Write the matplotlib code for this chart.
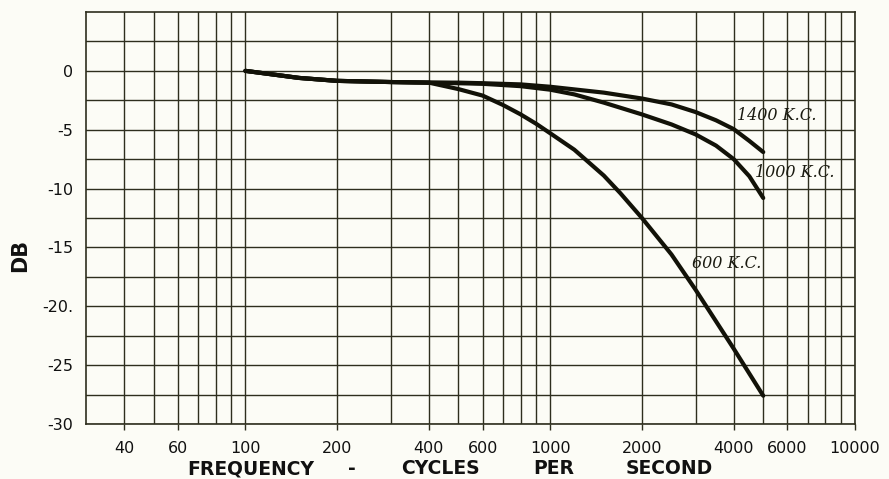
import matplotlib
matplotlib.use("Agg")
import matplotlib.pyplot as plt
from matplotlib.ticker import FixedLocator, FixedFormatter, NullFormatter

# trunk shared by all three curves (Hz, dB)
freq_trunk = [100, 150, 200, 300, 400]
db_trunk = [0.0, -0.6, -0.85, -0.95, -1.0]

freq_1400 = [500, 600, 800, 1000, 1500, 2000, 2500, 3000, 3500, 4000, 4500, 5000]
db_1400 = [-1.0, -1.05, -1.15, -1.35, -1.85, -2.35, -2.85, -3.5, -4.2, -4.95, -5.95, -6.9]

freq_1000 = [500, 600, 800, 1000, 1200, 1500, 2000, 2500, 3000, 3500, 4000, 4500, 5000]
db_1000 = [-1.05, -1.1, -1.3, -1.6, -2.0, -2.7, -3.7, -4.55, -5.4, -6.35, -7.5, -8.95, -10.8]

freq_600 = [500, 600, 700, 800, 900, 1000, 1200, 1500, 1700, 2000, 2500, 3000, 4000, 5000]
db_600 = [-1.55, -2.1, -2.9, -3.7, -4.5, -5.3, -6.7, -8.9, -10.4, -12.5, -15.6, -18.6, -23.6, -27.6]

curve_labels = ["1400 K.C.", "1000 K.C.", "600 K.C."]
label_pos = [(4100, -3.75), (4700, -8.6), (2930, -16.4)]

x_ticks = [40, 60, 100, 200, 400, 600, 1000, 2000, 4000, 6000, 10000]
x_ticklabels = ["40", "60", "100", "200", "400", "600", "1000", "2000", "4000", "6000", "10000"]
x_grid = [40, 50, 60, 70, 80, 90, 100, 200, 300, 400, 500, 600, 700, 800, 900,
          1000, 2000, 3000, 4000, 5000, 6000, 7000, 8000, 9000]
y_ticks = [-30, -25, -20, -15, -10, -5, 0]
y_ticklabels = ["-30", "-25", "-20.", "-15", "-10", "-5", "0"]

paper = "#fcfcf6"
ink = "#2e2e1e"

fig = plt.figure(figsize=(8.89, 4.79), dpi=100, facecolor=paper)
ax = fig.add_axes([86 / 889, 1 - 424 / 479, (855 - 86) / 889, (424 - 12) / 479])
ax.set_facecolor(paper)

ax.set_xscale("log")
ax.set_xlim(30, 10000)
ax.set_ylim(-30, 5)

for series_f, series_db in [(freq_1400, db_1400), (freq_1000, db_1000), (freq_600, db_600)]:
    ax.plot(freq_trunk + series_f, db_trunk + series_db, color="#121208", lw=3.0,
            solid_capstyle="round", solid_joinstyle="round", zorder=3)

for text, (fx, fy) in zip(curve_labels, label_pos):
    ax.text(fx, fy, text, fontsize=11.5, family="DejaVu Serif", style="italic",
            ha="left", va="center", color="#1a1a10", zorder=4)

# grid: every printed line of the chart paper
ax.xaxis.set_major_locator(FixedLocator(x_ticks))
ax.xaxis.set_major_formatter(FixedFormatter(x_ticklabels))
ax.xaxis.set_minor_locator(FixedLocator(x_grid))
ax.xaxis.set_minor_formatter(NullFormatter())
ax.yaxis.set_major_locator(FixedLocator(y_ticks))
ax.yaxis.set_major_formatter(FixedFormatter(y_ticklabels))
ax.yaxis.set_minor_locator(FixedLocator([-27.5, -22.5, -17.5, -12.5, -7.5, -2.5, 2.5]))

ax.grid(True, which="both", color=ink, lw=1.0)
for s in ax.spines.values():
    s.set_color(ink)
    s.set_linewidth(1.2)

ax.tick_params(axis="x", which="major", length=4, width=1, color=ink, pad=8,
               labelsize=11.5, labelcolor="#111111")
ax.tick_params(axis="x", which="minor", length=0)
ax.tick_params(axis="y", which="both", length=0, pad=9, labelsize=11.5, labelcolor="#111111")

fig.text(20 / 889, 1 - 255 / 479, "DB", rotation=90, fontsize=15, fontweight="heavy",
         ha="center", va="center", color="#111111")

x_words = ["FREQUENCY", "-", "CYCLES", "PER", "SECOND"]
x_word_centers = [251, 352, 440, 554, 669]
for word, cx in zip(x_words, x_word_centers):
    fig.text(cx / 889, 1 - 469 / 479, word, fontsize=13.5, fontweight="heavy",
             ha="center", va="center", color="#111111")

fig.savefig("out.png", dpi=100, facecolor=paper)
